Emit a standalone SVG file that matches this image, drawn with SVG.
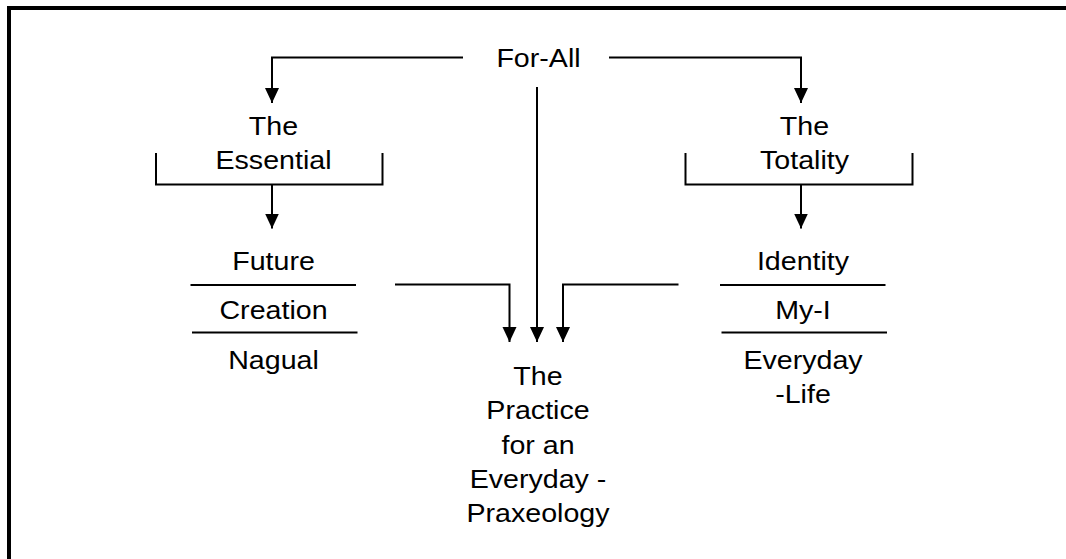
<svg xmlns="http://www.w3.org/2000/svg" width="1066" height="559" viewBox="0 0 1066 559">
  <style>
    .t { font-family: "Liberation Sans", Arial, sans-serif; font-size: 26px; fill: #000; text-anchor: middle; }
    .ln { stroke: #000; stroke-width: 2; fill: none; }
    .br { stroke: #000; stroke-width: 4; fill: none; }
  </style>
  <defs>
    <marker id="ah" markerUnits="userSpaceOnUse" markerWidth="15" markerHeight="15" refX="15" refY="7" orient="auto">
      <path d="M0,0 L15,7 L0,14 z" fill="#000"/>
    </marker>
  </defs>
  <rect width="1066" height="559" fill="#fff"/>
  <g id="frame">
    <path class="br" d="M9,559 V8 H1066"/>
  </g>
  <g id="for-all">
    <text class="t" transform="translate(538.5,66.5) scale(1.1,1)">For-All</text>
  </g>
  <g id="essential">
    <text class="t" transform="translate(273.5,135) scale(1.1,1)">The</text>
    <text class="t" transform="translate(273.5,169) scale(1.1,1)">Essential</text>
    <path class="ln" d="M156,153 V184.5 H382.5 V153"/>
  </g>
  <g id="totality">
    <text class="t" transform="translate(804.5,135) scale(1.1,1)">The</text>
    <text class="t" transform="translate(804.5,169) scale(1.1,1)">Totality</text>
    <path class="ln" d="M685.5,153 V184.5 H912.5 V153"/>
  </g>
  <g id="left-list">
    <text class="t" transform="translate(273.5,269.5) scale(1.1,1)">Future</text>
    <line class="ln" x1="190.5" y1="285" x2="356" y2="285"/>
    <text class="t" transform="translate(273.5,319) scale(1.1,1)">Creation</text>
    <line class="ln" x1="192" y1="332.5" x2="357.5" y2="332.5"/>
    <text class="t" transform="translate(273.5,368.5) scale(1.1,1)">Nagual</text>
  </g>
  <g id="right-list">
    <text class="t" transform="translate(803,269.5) scale(1.1,1)">Identity</text>
    <line class="ln" x1="720" y1="285" x2="885.5" y2="285"/>
    <text class="t" transform="translate(803,319) scale(1.1,1)">My-I</text>
    <line class="ln" x1="721.5" y1="332.5" x2="887" y2="332.5"/>
    <text class="t" transform="translate(803,368.5) scale(1.1,1)">Everyday</text>
    <text class="t" transform="translate(803,402.5) scale(1.1,1)">-Life</text>
  </g>
  <g id="practice">
    <text class="t" transform="translate(538,385) scale(1.1,1)">The</text>
    <text class="t" transform="translate(538,419) scale(1.1,1)">Practice</text>
    <text class="t" transform="translate(538,453.5) scale(1.1,1)">for an</text>
    <text class="t" transform="translate(538,487.5) scale(1.1,1)">Everyday -</text>
    <text class="t" transform="translate(538,521.5) scale(1.1,1)">Praxeology</text>
  </g>
  <g id="connectors">
    <path class="ln" d="M463,57.5 H272 V103" marker-end="url(#ah)"/>
    <path class="ln" d="M609,57.5 H801 V103" marker-end="url(#ah)"/>
    <path class="ln" d="M537,87 V342" marker-end="url(#ah)"/>
    <path class="ln" d="M272,184.5 V228.5" marker-end="url(#ah)"/>
    <path class="ln" d="M801,184.5 V228.5" marker-end="url(#ah)"/>
    <path class="ln" d="M395,284.5 H509.5 V342" marker-end="url(#ah)"/>
    <path class="ln" d="M678.5,284.5 H563 V342" marker-end="url(#ah)"/>
  </g>
</svg>
